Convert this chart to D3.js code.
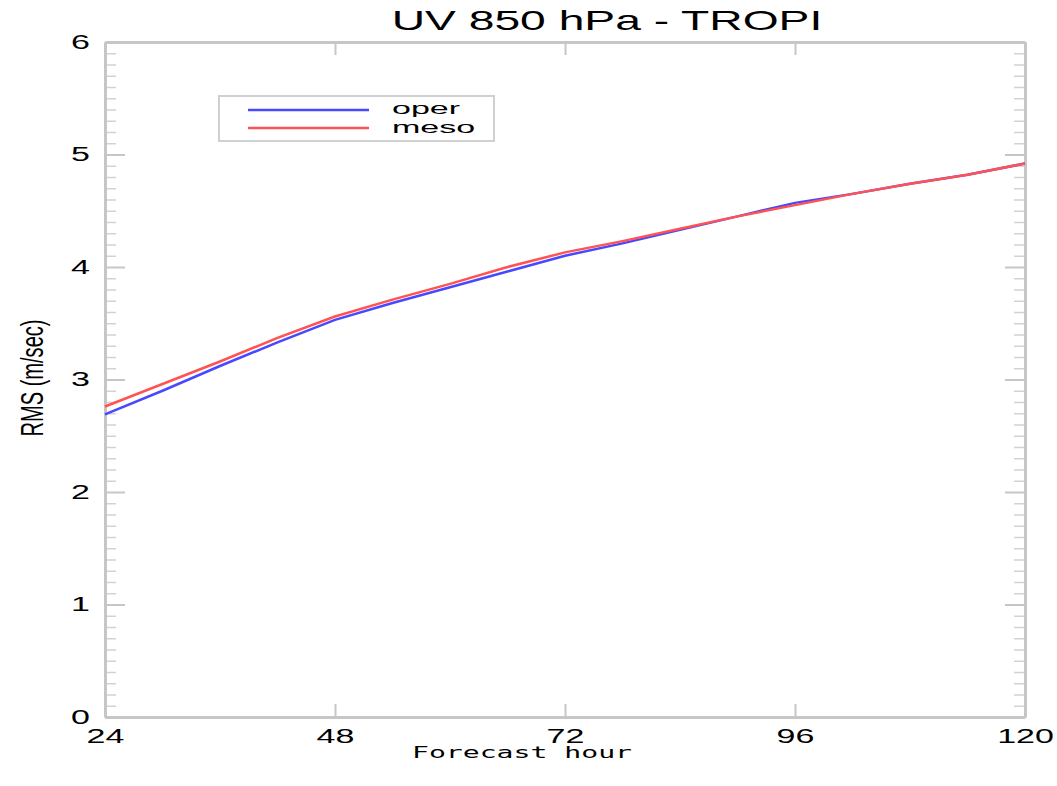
<!DOCTYPE html>
<html>
<head>
<meta charset="utf-8">
<script src="https://cdn.jsdelivr.net/npm/d3@7"></script>
<style>
	html, body { margin: 0; padding: 0; background: #fff; }
	svg { display: block; font-family: 'Liberation Sans', Arial, sans-serif; }
	.axis path, .axis line { stroke: #c6c6c6; }
	.axis text { fill: #000; font-size: 20px; }
</style>
</head>
<body>
<div id="chart"></div>
<script>
// forecast hours (x) and RMS of the wind error (m/sec) for the two runs
const hours = [ 24, 30, 36, 42, 48, 54, 60, 66, 72, 78, 84, 90, 96, 102, 108, 114, 120 ];
const operRms = [ 2.69, 2.90, 3.12, 3.33, 3.53, 3.68, 3.82, 3.96, 4.10, 4.21, 4.33, 4.45, 4.57, 4.65, 4.74, 4.82, 4.92 ];
const mesoRms = [ 2.76, 2.96, 3.16, 3.37, 3.56, 3.71, 3.85, 4.00, 4.13, 4.23, 4.34, 4.45, 4.55, 4.65, 4.74, 4.82, 4.92 ];
const seriesNames = [ 'oper', 'meso' ];
const xTicks = [ 24, 48, 72, 96, 120 ];
const yTicks = [ 0, 1, 2, 3, 4, 5, 6 ];

/**
 * RMS line chart, in the look of the old plotting package
 */
class RmsChart {
	constructor( selector ) {
		this.selector = selector;
		this.config = {
			width: 1057,
			height: 786,
			left: 105,
			right: 1025,
			top: 42,
			bottom: 717,
			stretch: 1.7,
		};
		this.colors = [ '#4848ff', '#ff5252' ];

		this.createSVG();
		this.setupScales();
		this.drawAxes();
		this.drawLines();
		this.drawLegend();
		this.drawTitles();
	}

	createSVG() {
		const { width, height } = this.config;
		this.svg = d3.select( this.selector )
			.append( 'svg' )
			.attr( 'width', width )
			.attr( 'height', height );
	}

	setupScales() {
		const { left, right, top, bottom } = this.config;
		this.x = d3.scaleLinear().domain( [ 24, 120 ] ).range( [ left, right ] );
		this.y = d3.scaleLinear().domain( [ 0, 6 ] ).range( [ bottom, top ] );
	}

	/**
	 * Widen a text horizontally, keeping its anchor
	 */
	stretchText( sel, factor ) {
		sel.each( function() {
			const w = this.getComputedTextLength();
			d3.select( this )
				.attr( 'textLength', w * factor )
				.attr( 'lengthAdjust', 'spacingAndGlyphs' );
		} );
	}

	drawAxes() {
		const { left, right, top, bottom, stretch } = this.config;
		const minor = d3.range( 0, 60 ).map( ( i ) => i / 10 ).filter( ( v ) => v % 1 !== 0 );

		// minor y ticks, both sides
		this.svg.append( 'g' )
			.attr( 'class', 'axis minor' )
			.attr( 'transform', `translate(${ left },0)` )
			.call( d3.axisLeft( this.y ).tickValues( minor ).tickSizeInner( -11 ).tickSizeOuter( 0 ).tickFormat( '' ) );
		this.svg.append( 'g' )
			.attr( 'class', 'axis minor' )
			.attr( 'transform', `translate(${ right },0)` )
			.call( d3.axisRight( this.y ).tickValues( minor ).tickSizeInner( -11 ).tickSizeOuter( 0 ).tickFormat( '' ) );
		this.svg.selectAll( '.minor line' ).style( 'stroke', '#d2d2d2' ).style( 'stroke-width', 1.5 );
		this.svg.selectAll( '.minor path' ).remove();

		const yLeft = this.svg.append( 'g' )
			.attr( 'class', 'axis' )
			.attr( 'transform', `translate(${ left },0)` )
			.call( d3.axisLeft( this.y ).tickValues( yTicks ).tickSizeInner( -20 ).tickSizeOuter( 0 ).tickPadding( 15 ).tickFormat( d3.format( 'd' ) ) );

		this.svg.append( 'g' )
			.attr( 'class', 'axis' )
			.attr( 'transform', `translate(${ right },0)` )
			.call( d3.axisRight( this.y ).tickValues( yTicks ).tickSizeInner( -20 ).tickSizeOuter( 0 ).tickFormat( '' ) );

		const xBottom = this.svg.append( 'g' )
			.attr( 'class', 'axis' )
			.attr( 'transform', `translate(0,${ bottom })` )
			.call( d3.axisBottom( this.x ).tickValues( xTicks ).tickSizeInner( -13 ).tickSizeOuter( 0 ).tickPadding( 12 ).tickFormat( d3.format( 'd' ) ) );

		this.svg.append( 'g' )
			.attr( 'class', 'axis' )
			.attr( 'transform', `translate(0,${ top })` )
			.call( d3.axisTop( this.x ).tickValues( xTicks ).tickSizeInner( -13 ).tickSizeOuter( 0 ).tickFormat( '' ) );

		this.svg.selectAll( '.axis:not(.minor) line' ).style( 'stroke-width', 2 );
		this.svg.selectAll( '.axis path.domain' ).style( 'stroke-width', 3 );

		this.stretchText( yLeft.selectAll( 'text' ), stretch );
		this.stretchText( xBottom.selectAll( 'text' ), stretch );
	}

	drawLines() {
		const line = d3.line()
			.x( ( d ) => this.x( d[ 0 ] ) )
			.y( ( d ) => this.y( d[ 1 ] ) );

		[ operRms, mesoRms ].forEach( ( values, i ) => {
			this.svg.append( 'path' )
				.datum( hours.map( ( h, j ) => [ h, values[ j ] ] ) )
				.attr( 'fill', 'none' )
				.attr( 'stroke', this.colors[ i ] )
				.attr( 'stroke-width', 2.5 )
				.attr( 'd', line );
		} );
	}

	drawLegend() {
		const legend = this.svg.append( 'g' ).attr( 'transform', 'translate(219,96)' );

		legend.append( 'rect' )
			.attr( 'width', 275 )
			.attr( 'height', 45 )
			.attr( 'fill', '#fff' )
			.attr( 'stroke', '#d0d0d0' )
			.attr( 'stroke-width', 2 );

		seriesNames.forEach( ( name, i ) => {
			const ly = 14 + i * 18;
			legend.append( 'line' )
				.attr( 'x1', 29 )
				.attr( 'x2', 150 )
				.attr( 'y1', ly )
				.attr( 'y2', ly )
				.attr( 'stroke', this.colors[ i ] )
				.attr( 'stroke-width', 2.5 );

			const t = legend.append( 'text' )
				.attr( 'x', 173 )
				.attr( 'y', 18 + i * 19 )
				.style( 'font-size', '17px' )
				.text( name );
			this.stretchText( t, 2 );
		} );
	}

	drawTitles() {
		const title = this.svg.append( 'text' )
			.attr( 'x', 607 )
			.attr( 'y', 30 )
			.attr( 'text-anchor', 'middle' )
			.style( 'font-size', '28px' )
			.text( 'UV 850 hPa - TROPI' );
		this.stretchText( title, 1.65 );

		const xLabel = this.svg.append( 'text' )
			.attr( 'x', 522 )
			.attr( 'y', 758 )
			.attr( 'text-anchor', 'middle' )
			.style( 'font-family', "'DejaVu Sans Mono', monospace" )
			.style( 'font-size', '16px' )
			.text( 'Forecast hour' );
		xLabel.attr( 'textLength', 220 ).attr( 'lengthAdjust', 'spacingAndGlyphs' );

		this.svg.append( 'text' )
			.attr( 'transform', 'translate(43,378) rotate(-90)' )
			.attr( 'text-anchor', 'middle' )
			.style( 'font-size', '31px' )
			.attr( 'textLength', 117 )
			.attr( 'lengthAdjust', 'spacingAndGlyphs' )
			.text( 'RMS (m/sec)' );
	}
}

new RmsChart( '#chart' );
</script>
</body>
</html>
